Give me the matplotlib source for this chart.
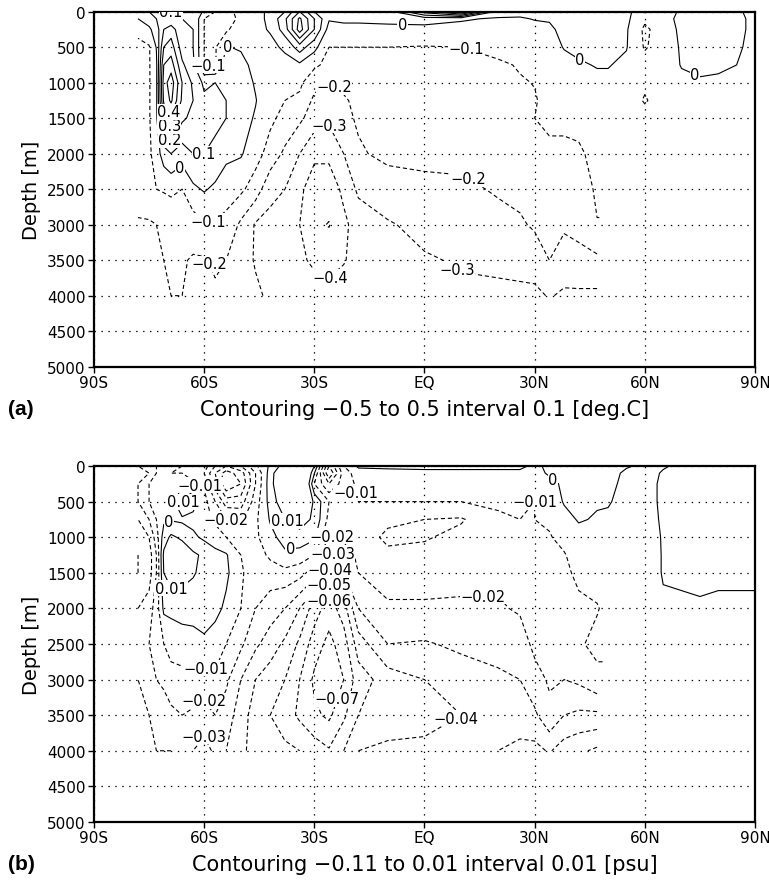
import numpy as np
import matplotlib.pyplot as plt
import matplotlib as mpl

mpl.rcParams["font.family"] = "DejaVu Sans"
mpl.rcParams["lines.scale_dashes"] = False

nan = np.nan

# grid of the zonal-mean section
lats = [-78, -75, -73, -71, -69, -66, -63, -60, -57, -54, -50, -46, -42, -38,
        -34, -30, -26, -22, -18, -10, 0, 10, 20, 26, 30, 34, 38, 42, 47,
        50, 55, 60, 65, 70, 75, 80, 90]
depths = [0, 100, 250, 500, 750, 1000, 1250, 1500, 2000, 2500, 3000, 3500, 4000]

# (a) temperature difference [deg.C], one row per latitude, top to bottom
temp_diff = [
    [0.05, 0.0, -0.08, -0.12, -0.12, -0.12, -0.13, -0.14, -0.17, -0.16, -0.21, -0.22, -0.21],
    [0.1, 0.05, -0.02, -0.11, -0.11, -0.11, -0.11, -0.11, -0.12, -0.14, -0.21, -0.22, -0.21],
    [0.15, 0.1, 0.05, 0.005, -0.02, -0.02, -0.02, -0.02, -0.05, -0.1, -0.2, -0.21, -0.2],
    [0.15, 0.12, 0.2, 0.3, 0.4, 0.45, 0.42, 0.3, 0.05, -0.09, -0.19, -0.2, -0.2],
    [0.1, 0.12, 0.25, 0.35, 0.45, 0.56, 0.52, 0.38, 0.1, -0.08, -0.17, -0.19, -0.2],
    [0.1, 0.1, 0.12, 0.15, 0.22, 0.3, 0.28, 0.22, 0.05, -0.1, -0.17, -0.19, -0.2],
    [0.1, 0.1, 0.1, 0.1, 0.12, 0.18, 0.2, 0.17, 0.1, -0.02, -0.15, -0.21, -0.23],
    [-0.02, -0.1, -0.1, -0.1, -0.1, 0.08, 0.12, 0.12, 0.1, 0.01, -0.11, -0.21, -0.25],
    [-0.1, -0.15, -0.12, -0.11, -0.11, 0.1, 0.12, 0.12, 0.08, -0.02, -0.11, -0.18, -0.22],
    [-0.15, -0.2, -0.12, 0.005, 0.05, 0.08, 0.1, 0.1, 0.03, -0.07, -0.12, -0.2, -0.22],
    [-0.05, -0.05, -0.03, -0.01, 0.03, 0.05, 0.05, 0.04, 0.01, -0.08, -0.22, -0.25, -0.25],
    [-0.03, -0.03, -0.03, -0.04, -0.03, -0.01, 0.005, -0.01, -0.06, -0.15, -0.31, -0.31, -0.28],
    [0.02, 0.02, 0.01, -0.03, -0.05, -0.06, -0.07, -0.08, -0.14, -0.27, -0.33, -0.34, -0.32],
    [0.1, 0.18, 0.15, 0.02, -0.04, -0.07, -0.1, -0.13, -0.22, -0.3, -0.33, -0.33, -0.3],
    [0.3, 0.42, 0.45, 0.15, -0.02, -0.08, -0.12, -0.18, -0.3, -0.38, -0.4, -0.38, -0.33],
    [0.1, 0.2, 0.2, 0.03, -0.08, -0.17, -0.22, -0.25, -0.38, -0.45, -0.48, -0.42, -0.35],
    [0.05, 0.01, -0.04, -0.1, -0.13, -0.2, -0.23, -0.28, -0.38, -0.45, -0.505, -0.44, -0.36],
    [0.05, 0.02, -0.03, -0.1, -0.12, -0.18, -0.21, -0.22, -0.3, -0.38, -0.42, -0.41, -0.33],
    [0.05, 0.02, -0.03, -0.1, -0.1, -0.15, -0.18, -0.19, -0.21, -0.28, -0.36, -0.35, -0.3],
    [0.05, 0.02, -0.02, -0.1, -0.1, -0.12, -0.14, -0.15, -0.18, -0.24, -0.31, -0.32, -0.3],
    [0.35, 0.04, -0.03, -0.105, -0.1, -0.11, -0.12, -0.13, -0.17, -0.23, -0.27, -0.31, -0.3],
    [0.6, 0.01, -0.03, -0.1, -0.1, -0.11, -0.12, -0.13, -0.17, -0.22, -0.26, -0.29, -0.32],
    [0.05, -0.01, -0.03, -0.08, -0.11, -0.1, -0.11, -0.11, -0.15, -0.19, -0.23, -0.29, -0.31],
    [0.03, -0.01, -0.04, -0.07, -0.095, -0.105, -0.1, -0.11, -0.14, -0.18, -0.21, -0.27, -0.32],
    [0.02, 0.005, -0.03, -0.05, -0.08, -0.098, -0.105, -0.1, -0.12, -0.16, -0.19, -0.24, -0.33],
    [0.02, 0.01, -0.02, -0.04, -0.05, -0.07, -0.08, -0.09, -0.11, -0.14, -0.17, -0.2, -0.29],
    [0.05, 0.05, 0.03, 0.005, -0.03, -0.05, -0.07, -0.08, -0.12, -0.16, -0.19, -0.23, -0.32],
    [0.05, 0.05, 0.03, 0.02, -0.01, -0.04, -0.06, -0.08, -0.11, -0.17, -0.18, -0.22, -0.32],
    [0.05, 0.05, 0.04, 0.02, 0.005, -0.02, -0.04, -0.05, -0.08, -0.08, -0.105, -0.22, -0.32],
    [0.05, 0.06, 0.05, 0.03, 0.005, -0.02, -0.03, -0.04, -0.06, -0.08, nan, nan, nan],
    [0.02, 0.02, 0.01, 0.005, -0.02, -0.03, -0.04, -0.05, -0.06, -0.07, nan, nan, nan],
    [-0.05, -0.08, -0.12, -0.11, -0.06, -0.08, -0.11, -0.06, -0.05, -0.06, nan, nan, nan],
    [-0.03, -0.04, -0.05, -0.05, -0.05, -0.05, -0.05, -0.05, -0.05, -0.05, nan, nan, nan],
    [0.01, 0.03, 0.02, 0.01, 0.005, -0.02, -0.03, -0.03, -0.04, -0.04, nan, nan, nan],
    [0.03, 0.04, 0.04, 0.03, 0.02, -0.01, -0.02, -0.03, -0.03, -0.04, nan, nan, nan],
    [0.02, 0.03, 0.03, 0.02, 0.01, -0.01, -0.02, -0.02, -0.03, -0.03, nan, nan, nan],
    [-0.01, -0.01, -0.01, -0.01, -0.01, -0.01, -0.02, -0.02, -0.02, -0.02, nan, nan, nan],
]

# (b) salinity difference [psu]
salt_diff = [
    [-0.02, -0.03, -0.02, -0.02, -0.03, -0.035, -0.04, -0.04, -0.03, -0.025, -0.03, -0.035, -0.04],
    [-0.01, -0.02, -0.01, -0.01, -0.02, -0.03, -0.035, -0.035, -0.025, -0.02, -0.022, -0.03, -0.035],
    [-0.01, -0.01, -0.005, -0.005, -0.01, -0.015, -0.02, -0.02, -0.015, -0.015, -0.02, -0.027, -0.03],
    [-0.002, -0.005, -0.002, -0.002, -0.002, 0.005, 0.012, 0.01, 0.002, -0.01, -0.018, -0.025, -0.03],
    [-0.002, -0.01, -0.005, -0.005, -0.001, 0.012, 0.022, 0.016, 0.002, -0.005, -0.015, -0.022, -0.03],
    [-0.01, -0.01, -0.002, 0.011, -0.002, 0.008, 0.018, 0.014, 0.004, -0.005, -0.013, -0.02, -0.028],
    [-0.01, -0.015, -0.008, 0.004, -0.003, 0.002, 0.012, 0.011, 0.004, -0.004, -0.012, -0.022, -0.03],
    [-0.015, -0.02, -0.012, -0.006, -0.006, -0.002, 0.008, 0.007, 0.005, -0.002, -0.014, -0.024, -0.034],
    [-0.03, -0.04, -0.035, -0.02, -0.012, -0.005, 0.003, 0.005, 0.003, -0.005, -0.012, -0.02, -0.028],
    [-0.04, -0.055, -0.06, -0.035, -0.02, -0.01, 0.001, 0.002, -0.002, -0.01, -0.018, -0.025, -0.03],
    [-0.03, -0.045, -0.05, -0.035, -0.022, -0.015, -0.01, -0.008, -0.01, -0.018, -0.03, -0.035, -0.037],
    [-0.012, -0.02, -0.02, -0.015, -0.012, -0.012, -0.015, -0.018, -0.02, -0.028, -0.04, -0.045, -0.045],
    [0.002, 0.005, 0.006, 0.004, 0.001, -0.003, -0.008, -0.015, -0.025, -0.035, -0.045, -0.05, -0.045],
    [0.015, 0.025, 0.025, 0.018, 0.01, 0.004, -0.002, -0.013, -0.03, -0.042, -0.05, -0.055, -0.048],
    [0.03, 0.045, 0.045, 0.03, 0.015, 0.006, -0.004, -0.016, -0.04, -0.052, -0.06, -0.062, -0.05],
    [0.01, 0.0005, -0.01, 0.008, 0.008, 0.002, -0.01, -0.025, -0.055, -0.065, -0.072, -0.068, -0.055],
    [-0.04, -0.05, -0.03, -0.01, -0.013, -0.021, -0.033, -0.043, -0.065, -0.073, -0.079, -0.072, -0.059],
    [-0.01, -0.015, -0.015, -0.01, -0.012, -0.018, -0.025, -0.03, -0.055, -0.065, -0.07, -0.062, -0.05],
    [0.002, -0.005, -0.008, -0.01, -0.012, -0.015, -0.018, -0.02, -0.03, -0.045, -0.055, -0.05, -0.04],
    [0.002, -0.003, -0.006, -0.01, -0.018, -0.022, -0.018, -0.017, -0.021, -0.03, -0.045, -0.045, -0.038],
    [0.002, -0.002, -0.006, -0.01, -0.02, -0.021, -0.017, -0.017, -0.021, -0.031, -0.04, -0.043, -0.038],
    [0.002, -0.002, -0.005, -0.01, -0.021, -0.017, -0.017, -0.018, -0.021, -0.028, -0.035, -0.04, -0.038],
    [0.002, -0.002, -0.004, -0.008, -0.012, -0.014, -0.016, -0.018, -0.021, -0.026, -0.032, -0.039, -0.04],
    [0.002, -0.002, -0.004, -0.008, -0.01, -0.012, -0.013, -0.015, -0.019, -0.024, -0.03, -0.038, -0.041],
    [-0.002, -0.005, -0.008, -0.01, -0.01, -0.01, -0.01, -0.012, -0.015, -0.018, -0.023, -0.032, -0.043],
    [0.002, 0.002, -0.005, -0.008, -0.009, -0.0105, -0.011, -0.011, -0.013, -0.016, -0.019, -0.022, -0.039],
    [0.002, 0.005, 0.003, 0.001, -0.004, -0.008, -0.0105, -0.011, -0.011, -0.013, -0.02, -0.03, -0.045],
    [0.003, 0.005, 0.004, 0.002, 0.001, -0.004, -0.007, -0.009, -0.011, -0.011, -0.018, -0.032, -0.048],
    [0.003, 0.004, 0.003, 0.001, -0.001, -0.003, -0.005, -0.007, -0.0105, -0.008, -0.012, -0.032, -0.052],
    [0.002, 0.004, 0.003, 0.001, -0.002, -0.004, -0.005, -0.006, -0.008, -0.008, nan, nan, nan],
    [0.001, -0.002, -0.003, -0.004, -0.005, -0.005, -0.006, -0.006, -0.007, -0.007, nan, nan, nan],
    [-0.002, -0.004, -0.004, -0.004, -0.003, -0.003, -0.004, -0.004, -0.005, -0.005, nan, nan, nan],
    [-0.001, 0.001, 0.002, 0.002, 0.001, 0.0005, 0.0005, 0.0005, -0.001, -0.003, nan, nan, nan],
    [0.002, 0.003, 0.003, 0.003, 0.003, 0.002, 0.002, 0.001, -0.001, -0.004, nan, nan, nan],
    [0.001, 0.003, 0.003, 0.003, 0.003, 0.002, 0.002, 0.001, -0.0005, -0.003, nan, nan, nan],
    [0.001, 0.003, 0.003, 0.002, 0.002, 0.002, 0.001, 0.001, -0.001, -0.003, nan, nan, nan],
    [0.001, 0.002, 0.002, 0.002, 0.002, 0.001, 0.001, 0.001, -0.001, -0.002, nan, nan, nan],
]

temp_levels = np.round(np.arange(-0.5, 0.51, 0.1), 2)
salt_levels = np.round(np.arange(-0.11, 0.0101, 0.01), 2)

# contour labels: (value, lat, depth) where they sit on the reference
temp_labels = [(0.1, -71, 30), (0.0, -53.7, 500), (-0.1, -59, 780), (0.4, -70, 1420),
               (0.3, -70, 1620), (0.2, -70, 1830), (0.0, -66.5, 2200), (0.1, -59.7, 2140),
               (-0.1, -59, 2910), (-0.2, -60.3, 3580), (-0.2, -24.3, 1040),
               (-0.3, -26, 1560), (-0.4, -26, 3730), (0.0, -6, 200), (-0.1, 11.7, 490),
               (-0.2, 13, 2280), (-0.3, 9, 3620), (0.0, 41, 780), (0.0, 73, 945)]
salt_labels = [(-0.01, -62, 300), (0.01, -62, 540), (0.0, -70.5, 720), (-0.02, -53.8, 740),
               (0.01, -69.5, 1750), (0.01, -37, 745), (0.0, -36.5, 1150), (-0.01, -20, 390),
               (-0.02, -24.8, 955), (-0.03, -23.8, 1165), (-0.04, -25.6, 1445),
               (-0.05, -26, 1630), (-0.06, -26, 1825), (-0.07, -26, 3240),
               (-0.01, -59, 2730), (-0.02, -61, 3180), (-0.03, -59, 3760),
               (-0.02, 16, 1800), (-0.04, 9, 3580), (-0.01, 30.5, 230), (0.0, 37, 90)]

xticks = [-90, -60, -30, 0, 30, 60, 90]
xlabels = ["90S", "60S", "30S", "EQ", "30N", "60N", "90N"]


def fmt(v):
    if abs(v) < 1e-9:
        return "0"
    return f"{v:g}".replace("-", "\u2212")


def draw_panel(ax, field, levels, labels):
    z = np.array(field, dtype=float).T
    zmin, zmax = np.nanmin(z), np.nanmax(z)
    for lv in levels:
        if lv < zmin or lv > zmax:
            continue
        style = (0, (3, 2)) if lv < -1e-9 else "solid"
        cs = ax.contour(lats, depths, z, levels=[lv], colors="k",
                        linewidths=0.8, linestyles=[style])
        spots = [(la, de) for value, la, de in labels if abs(value - lv) < 1e-9]
        if spots:
            texts = ax.clabel(cs, manual=spots, inline=False, fmt=fmt, fontsize=10.5)
            for t in texts:
                t.set_rotation(0)
                t.set_bbox(dict(facecolor="white", edgecolor="none", pad=0.3))
    ax.set_xlim(-90, 90)
    ax.set_ylim(5000, 0)
    ax.set_xticks(xticks)
    ax.set_xticklabels(xlabels)
    ax.set_yticks(range(0, 5001, 500))
    ax.tick_params(labelsize=11, direction="out", length=4, width=1, pad=2)
    ax.grid(True, color="k", linestyle=(0, (1, 4)), linewidth=0.9)
    for s in ax.spines.values():
        s.set_linewidth(1.6)
    ax.set_ylabel("Depth [m]", fontsize=14, labelpad=4)


fig = plt.figure(figsize=(7.69, 8.87), dpi=100)
ax_a = fig.add_axes([0.1222, 0.5855, 0.8596, 0.4002])
ax_b = fig.add_axes([0.1222, 0.0722, 0.8596, 0.4013])

draw_panel(ax_a, temp_diff, temp_levels, temp_labels)
draw_panel(ax_b, salt_diff, salt_levels, salt_labels)

fig.text(0.5520, 1 - 410 / 887, "Contouring \u22120.5 to 0.5 interval 0.1 [deg.C]",
         ha="center", va="center", fontsize=15)
fig.text(0.5520, 1 - 865 / 887, "Contouring \u22120.11 to 0.01 interval 0.01 [psu]",
         ha="center", va="center", fontsize=15)
fig.text(0.010, 1 - 410 / 887, "(a)", ha="left", va="center", fontsize=15,
         fontweight="bold", family="Liberation Sans")
fig.text(0.010, 1 - 865 / 887, "(b)", ha="left", va="center", fontsize=15,
         fontweight="bold", family="Liberation Sans")

fig.savefig("out.png", dpi=100)
